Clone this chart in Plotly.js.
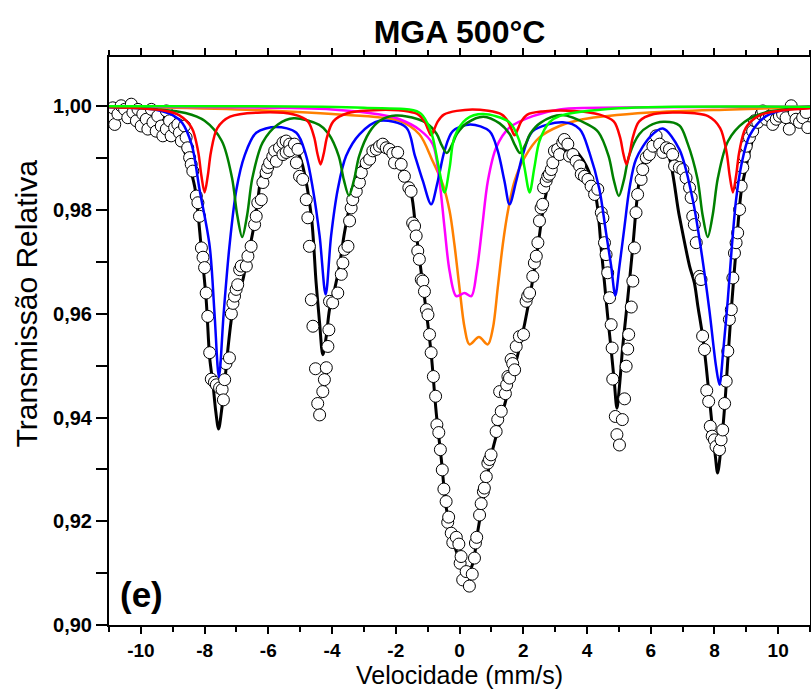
<!DOCTYPE html>
<html>
<head>
<meta charset="utf-8">
<script src="https://cdn.plot.ly/plotly-3.0.1.min.js"></script>
<style>html,body{margin:0;padding:0;background:#fff;}#chart{width:811px;height:693px;}</style>
</head>
<body>
<div id="chart"></div>
<script>
// Experimental points (velocity mm/s, relative transmission)
const velocity = [-10.88,-10.82,-10.72,-10.62,-10.51,-10.41,-10.30,-10.25,-10.14,-10.09,-9.99,-9.94,-9.83,-9.78,-9.67,-9.62,-9.52,-9.47,-9.36,-9.31,-9.20,-9.20,-9.10,-9.05,-8.94,-8.84,-8.79,-8.73,-8.63,-8.58,-8.53,-8.47,-8.42,-8.37,-8.26,-8.21,-8.16,-8.10,-8.05,-8.00,-7.95,-7.90,-7.84,-7.79,-7.69,-7.63,-7.53,-7.45,-7.41,-7.37,-7.33,-7.22,-7.16,-7.11,-7.06,-7.01,-6.96,-6.90,-6.85,-6.69,-6.64,-6.54,-6.43,-6.38,-6.33,-6.22,-6.17,-6.07,-6.02,-5.96,-5.86,-5.80,-5.75,-5.65,-5.54,-5.54,-5.44,-5.44,-5.33,-5.33,-5.18,-5.12,-5.07,-5.02,-4.92,-4.81,-4.76,-4.71,-4.65,-4.60,-4.52,-4.45,-4.39,-4.29,-4.24,-4.18,-4.13,-4.10,-4.08,-3.98,-3.82,-3.71,-3.66,-3.61,-3.50,-3.45,-3.40,-3.35,-3.24,-3.14,-3.08,-2.93,-2.82,-2.72,-2.61,-2.51,-2.41,-2.30,-2.20,-2.09,-2.04,-1.94,-1.83,-1.73,-1.59,-1.52,-1.47,-1.41,-1.36,-1.31,-1.26,-1.20,-1.15,-1.10,-1.04,-0.99,-0.94,-0.89,-0.82,-0.75,-0.71,-0.65,-0.60,-0.54,-0.49,-0.42,-0.37,-0.34,-0.26,-0.21,-0.10,-0.02,0.02,0.05,0.10,0.21,0.31,0.40,0.47,0.50,0.54,0.63,0.68,0.75,0.78,0.84,0.89,0.94,0.99,1.15,1.20,1.26,1.31,1.44,1.48,1.52,1.57,1.62,1.67,1.73,1.78,1.88,2.01,2.09,2.14,2.20,2.30,2.35,2.41,2.46,2.51,2.56,2.61,2.64,2.72,2.77,2.82,2.88,2.93,2.98,3.08,3.14,3.24,3.29,3.40,3.45,3.56,3.66,3.77,3.82,3.92,4.03,4.13,4.24,4.34,4.45,4.50,4.55,4.60,4.65,4.71,4.76,4.79,4.81,4.89,4.94,5.02,5.11,5.18,5.23,5.28,5.31,5.39,5.44,5.49,5.54,5.59,5.70,5.75,5.86,5.96,6.07,6.17,6.28,6.38,6.49,6.59,6.69,6.75,6.90,7.01,7.11,7.22,7.27,7.32,7.37,7.43,7.53,7.58,7.63,7.69,7.76,7.82,7.87,7.93,8.00,8.05,8.16,8.21,8.26,8.32,8.37,8.42,8.47,8.53,8.58,8.63,8.68,8.73,8.79,8.84,8.89,8.94,9.00,9.10,9.20,9.26,9.36,9.47,9.52,9.62,9.73,9.83,9.94,10.04,10.14,10.25,10.35,10.41,10.51,10.56,10.67,10.77,10.88,10.93];
const transmission = [0.9997,0.9965,0.9985,1.0001,0.9994,0.9978,1.0004,0.9988,0.9972,0.9994,0.9962,0.9985,0.9975,0.9956,0.9994,0.9969,0.9952,0.9981,0.9962,0.9943,0.9991,0.9956,0.9972,0.9943,0.9959,0.9965,0.9949,0.9933,0.9962,0.9940,0.9920,0.9901,0.9888,0.9875,0.9827,0.9814,0.9788,0.9727,0.9709,0.9689,0.9640,0.9595,0.9525,0.9474,0.9468,0.9463,0.9457,0.9454,0.9434,0.9473,0.9504,0.9515,0.9600,0.9620,0.9634,0.9647,0.9656,0.9685,0.9692,0.9692,0.9711,0.9730,0.9772,0.9788,0.9814,0.9820,0.9853,0.9872,0.9882,0.9891,0.9903,0.9914,0.9894,0.9920,0.9930,0.9907,0.9933,0.9911,0.9927,0.9914,0.9927,0.9891,0.9917,0.9865,0.9859,0.9820,0.9785,0.9730,0.9627,0.9576,0.9494,0.9427,0.9405,0.9450,0.9473,0.9496,0.9537,0.9569,0.9624,0.9621,0.9640,0.9676,0.9698,0.9724,0.9730,0.9779,0.9804,0.9820,0.9836,0.9853,0.9872,0.9891,0.9898,0.9914,0.9917,0.9923,0.9927,0.9920,0.9917,0.9909,0.9891,0.9911,0.9888,0.9865,0.9843,0.9836,0.9775,0.9769,0.9750,0.9721,0.9705,0.9666,0.9663,0.9643,0.9608,0.9598,0.9560,0.9525,0.9479,0.9441,0.9386,0.9371,0.9338,0.9299,0.9262,0.9238,0.9198,0.9208,0.9177,0.9159,0.9169,0.9156,0.9119,0.9132,0.9087,0.9103,0.9075,0.9098,0.9129,0.9158,0.9169,0.9212,0.9234,0.9257,0.9264,0.9286,0.9312,0.9319,0.9328,0.9373,0.9396,0.9450,0.9412,0.9446,0.9463,0.9479,0.9476,0.9512,0.9504,0.9492,0.9537,0.9556,0.9560,0.9624,0.9634,0.9640,0.9672,0.9698,0.9711,0.9737,0.9779,0.9804,0.9811,0.9843,0.9856,0.9865,0.9869,0.9878,0.9891,0.9914,0.9917,0.9907,0.9930,0.9936,0.9927,0.9904,0.9907,0.9894,0.9885,0.9869,0.9865,0.9859,0.9846,0.9830,0.9840,0.9795,0.9785,0.9737,0.9714,0.9679,0.9631,0.9579,0.9534,0.9474,0.9402,0.9367,0.9347,0.9396,0.9436,0.9499,0.9532,0.9560,0.9613,0.9663,0.9727,0.9795,0.9830,0.9859,0.9878,0.9901,0.9907,0.9923,0.9943,0.9927,0.9911,0.9920,0.9917,0.9907,0.9885,0.9882,0.9878,0.9862,0.9843,0.9824,0.9788,0.9772,0.9737,0.9672,0.9666,0.9557,0.9531,0.9452,0.9431,0.9383,0.9364,0.9357,0.9344,0.9338,0.9357,0.9376,0.9427,0.9470,0.9528,0.9589,0.9608,0.9669,0.9717,0.9737,0.9756,0.9801,0.9846,0.9882,0.9904,0.9923,0.9940,0.9952,0.9972,0.9969,0.9985,0.9991,0.9975,0.9981,0.9965,0.9975,0.9981,0.9985,0.9978,0.9956,1.0001,0.9988,0.9975,0.9969,0.9978,0.9988,0.9959];

// Total fit (black)
const fitX = [-11,-10,-9.5,-9.2,-8.9,-8.7,-8.52,-8.31,-8.1,-7.95,-7.84,-7.74,-7.65,-7.56,-7.47,-7.37,-7.27,-7.11,-6.95,-6.8,-6.69,-6.49,-6.33,-6.17,-5.86,-5.44,-5.25,-5.02,-4.92,-4.65,-4.5,-4.39,-4.29,-4.18,-4.08,-3.92,-3.77,-3.61,-3.40,-3.19,-2.93,-2.45,-2.2,-1.78,-1.52,-1.36,-1.2,-1.05,-0.89,-0.73,-0.57,-0.42,-0.21,0.05,0.26,0.42,0.58,0.78,0.99,1.26,1.57,1.88,2.2,2.46,2.61,2.77,2.98,3.29,3.56,3.98,4.29,4.45,4.55,4.65,4.76,4.86,4.94,5.02,5.12,5.23,5.33,5.45,5.57,5.7,5.95,6.2,6.49,6.9,7.22,7.37,7.48,7.63,7.74,7.9,8.03,8.1,8.2,8.32,8.42,8.53,8.68,8.84,9.0,9.14,9.41,9.94,10.57,11];
const fitY = [0.9997,0.9993,0.9986,0.9977,0.9955,0.9925,0.9893,0.9845,0.9724,0.9627,0.9515,0.9466,0.9412,0.9378,0.9412,0.9466,0.9531,0.9608,0.9640,0.9665,0.9698,0.9756,0.9820,0.9878,0.9904,0.9930,0.9932,0.9904,0.9885,0.9788,0.9660,0.9582,0.9521,0.9557,0.9608,0.9647,0.9692,0.9756,0.9820,0.9866,0.9904,0.9916,0.9912,0.9872,0.9833,0.9756,0.9679,0.9608,0.9524,0.9409,0.9319,0.9228,0.9164,0.9119,0.9100,0.9119,0.9183,0.9254,0.9325,0.9389,0.9460,0.9534,0.9630,0.9730,0.9795,0.9846,0.9885,0.9914,0.9917,0.9885,0.9822,0.9724,0.9660,0.9595,0.9531,0.9467,0.9418,0.9460,0.9535,0.9600,0.9660,0.9737,0.9820,0.9878,0.9915,0.9928,0.9917,0.9788,0.9692,0.9660,0.9615,0.9557,0.9500,0.9402,0.9325,0.9293,0.9338,0.9420,0.9510,0.9608,0.9724,0.9835,0.9885,0.9923,0.9967,0.9988,0.9997,0.9999];

// Blue sextet
const blueX = [-11,-9.5,-9.0,-8.7,-8.4,-8.16,-7.84,-7.69,-7.55,-7.40,-7.22,-7.0,-6.75,-6.38,-5.75,-5.12,-4.81,-4.6,-4.39,-4.2,-4.03,-3.82,-3.56,-3.14,-2.51,-1.67,-1.41,-1.15,-0.89,-0.68,-0.47,-0.21,0.34,0.94,1.2,1.41,1.57,1.78,1.99,2.30,3.24,3.77,4.08,4.39,4.6,4.76,4.89,5.02,5.18,5.33,5.54,6.01,6.38,6.9,7.32,7.58,7.84,8.05,8.16,8.28,8.42,8.54,8.68,8.84,9.1,9.62,10.3,11];
const blueY = [0.9998,0.9993,0.9983,0.9968,0.9925,0.9840,0.9730,0.9602,0.9478,0.9602,0.9730,0.9840,0.9904,0.9949,0.9960,0.9949,0.9904,0.9840,0.9750,0.9637,0.9750,0.9840,0.9904,0.9946,0.9972,0.9959,0.9907,0.9856,0.9811,0.9856,0.9914,0.9952,0.9965,0.9952,0.9914,0.9856,0.9811,0.9856,0.9907,0.9952,0.9969,0.9956,0.9910,0.9840,0.9756,0.9692,0.9635,0.9692,0.9769,0.9840,0.9898,0.9943,0.9957,0.9917,0.9820,0.9724,0.9608,0.9499,0.9463,0.9531,0.9627,0.9724,0.9820,0.9885,0.9943,0.9981,0.9994,0.9998];

// Dark green sextet
const greenX = [-11,-9.5,-8.6,-8.0,-7.46,-7.14,-6.98,-6.82,-6.66,-6.50,-6.18,-5.7,-5.2,-4.4,-4.11,-3.79,-3.63,-3.47,-3.31,-3.15,-2.83,-2.5,-2.0,-1.3,-1.04,-0.72,-0.56,-0.4,-0.24,-0.08,0.24,0.75,1.26,1.58,1.74,1.9,2.06,2.22,2.54,3.2,4.05,4.36,4.68,4.84,5.0,5.16,5.32,5.64,5.95,6.4,6.9,7.15,7.47,7.63,7.79,7.95,8.11,8.43,8.95,9.6,11];
const greenY = [0.9999,0.9994,0.9987,0.9972,0.9933,0.9862,0.9792,0.9748,0.9792,0.9862,0.9930,0.9965,0.9977,0.9964,0.9947,0.9904,0.9858,0.9828,0.9858,0.9904,0.9950,0.9972,0.9982,0.9975,0.9968,0.9947,0.9925,0.9910,0.9925,0.9947,0.9968,0.9980,0.9967,0.9946,0.9925,0.9910,0.9925,0.9947,0.9968,0.9983,0.9964,0.9950,0.9904,0.9858,0.9827,0.9858,0.9904,0.9946,0.9962,0.9970,0.9963,0.9930,0.9860,0.9790,0.9748,0.9792,0.9862,0.9933,0.9970,0.9988,0.9997];

// Red sextet
const redX = [-11,-10,-9.2,-8.8,-8.4,-8.2,-8.1,-8.0,-7.9,-7.8,-7.6,-7.2,-6.2,-5.2,-4.76,-4.56,-4.46,-4.36,-4.26,-4.16,-3.96,-3.5,-2.5,-1.6,-1.29,-1.09,-0.99,-0.89,-0.79,-0.69,-0.49,0.4,1.33,1.53,1.63,1.73,1.83,1.93,2.13,2.6,3.6,4.4,4.84,5.04,5.14,5.24,5.34,5.44,5.64,6.1,6.9,7.8,8.18,8.38,8.48,8.58,8.68,8.78,8.98,9.4,10,11];
const redY = [0.9998,0.9996,0.9991,0.9983,0.9958,0.9912,0.9866,0.9834,0.9866,0.9912,0.9958,0.9980,0.9988,0.9984,0.9971,0.9940,0.9909,0.9888,0.9909,0.9940,0.9971,0.9987,0.9993,0.9990,0.9984,0.9970,0.9956,0.9944,0.9956,0.9970,0.9984,0.9994,0.9984,0.9970,0.9956,0.9944,0.9956,0.9970,0.9984,0.9990,0.9991,0.9984,0.9971,0.9940,0.9909,0.9888,0.9909,0.9940,0.9971,0.9985,0.9988,0.9981,0.9958,0.9912,0.9866,0.9834,0.9866,0.9912,0.9958,0.9982,0.9991,0.9996];

// Orange doublet
const orangeX = [-11,-7,-4,-1.88,-1.26,-0.84,-0.52,-0.31,-0.16,0.0,0.16,0.31,0.61,0.89,1.05,1.2,1.36,1.52,1.73,2.04,2.51,3.14,3.87,5.96,8.57,11];
const orangeY = [0.9999,0.9994,0.9985,0.9972,0.9946,0.9894,0.9849,0.9798,0.9734,0.9650,0.9573,0.9541,0.9555,0.9541,0.9573,0.9650,0.9734,0.9798,0.9856,0.9901,0.9940,0.9962,0.9975,0.9988,0.9994,0.9998];

// Magenta doublet
const magentaX = [-11,-4,-2.5,-1.88,-1.26,-0.84,-0.63,-0.47,-0.31,-0.10,0.16,0.37,0.54,0.71,0.89,1.15,1.57,2.3,3.14,6,11];
const magentaY = [0.9999,0.9994,0.9984,0.9975,0.9955,0.9927,0.9856,0.9766,0.9682,0.9634,0.9640,0.9634,0.9682,0.9766,0.9856,0.9920,0.9959,0.9981,0.9994,0.9998,0.9999];

// Light green doublet
const limeX = [-11,-3,-1.26,-0.99,-0.84,-0.65,-0.47,-0.31,-0.16,0.21,0.73,1.57,1.88,2.04,2.2,2.35,2.51,2.82,3.14,5,11];
const limeY = [1.0,0.9997,0.9988,0.9965,0.9940,0.9882,0.9834,0.9882,0.9940,0.9975,0.9985,0.9969,0.9933,0.9882,0.9834,0.9882,0.9933,0.9969,0.9981,0.9996,0.9999];

// Tick labels
const xTickVals = [-10,-8,-6,-4,-2,0,2,4,6,8,10];
const xTickText = ['-10','-8','-6','-4','-2','0','2','4','6','8','10'];

const FONT = 'Liberation Sans, Arial, Helvetica, sans-serif';
function curve(x, y, color, w) {
  return {x: x, y: y, type: 'scatter', mode: 'lines', hoverinfo: 'skip',
          line: {color: color, width: w, shape: 'spline', smoothing: 0.9}};
}
const traces = [
  curve(fitX, fitY, '#000000', 3),
  {x: velocity, y: transmission, type: 'scatter', mode: 'markers',
   marker: {symbol: 'circle', size: 12, color: '#ffffff', line: {color: '#000000', width: 1}}},
  curve(orangeX, orangeY, '#ff8000', 2.5),
  curve(magentaX, magentaY, '#ff00ff', 2.5),
  curve(blueX, blueY, '#0000ff', 2.5),
  curve(greenX, greenY, '#008000', 2.5),
  curve(redX, redY, '#ff0000', 2.5),
  curve(limeX, limeY, '#00ff00', 2.5)
];

const layout = {
  width: 811, height: 693,
  margin: {l: 109, r: 1, t: 57, b: 68},
  paper_bgcolor: '#ffffff', plot_bgcolor: '#ffffff',
  showlegend: false,
  separators: ',.',
  font: {family: FONT, color: '#000000'},
  title: {text: 'MGA 500°C', font: {family: FONT, size: 32, weight: 'bold', color: '#000'},
          x: 0.5, xref: 'paper', y: 1 - 32/693, yref: 'container', yanchor: 'middle'},
  xaxis: {
    range: [-11, 11], tickmode: 'array', tickvals: xTickVals, ticktext: xTickText,
    showgrid: false, zeroline: false,
    showline: true, linewidth: 2, linecolor: '#000', mirror: 'ticks',
    ticks: 'outside', ticklen: 7, tickwidth: 2, tickcolor: '#000',
    minor: {dtick: 1, tick0: 0, ticks: 'outside', ticklen: 5, tickwidth: 2, tickcolor: '#000'},
    tickfont: {family: FONT, size: 19, weight: 'bold'},
    title: {text: 'Velocidade (mm/s)', font: {family: FONT, size: 25}, standoff: 6}
  },
  yaxis: {
    range: [0.9, 1.0095], tick0: 0.9, dtick: 0.02, tickformat: '.2f',
    showgrid: false, zeroline: false,
    showline: true, linewidth: 2, linecolor: '#000', mirror: 'ticks',
    ticks: 'outside', ticklen: 11, tickwidth: 2, tickcolor: '#000',
    minor: {dtick: 0.01, ticks: 'outside', ticklen: 11, tickwidth: 2, tickcolor: '#000'},
    tickfont: {family: FONT, size: 20, weight: 'bold'}
  },
  annotations: [
    {text: 'Transmissão Relativa', textangle: -90, xref: 'paper', yref: 'paper',
     x: -0.117, y: 0.566, xanchor: 'center', yanchor: 'middle', showarrow: false,
     font: {family: FONT, size: 30, color: '#000'}},
    {text: '(e)', xref: 'paper', yref: 'paper', x: 0.047, y: 0.053,
     xanchor: 'center', yanchor: 'middle', showarrow: false,
     font: {family: FONT, size: 35, weight: 'bold', color: '#000'}}
  ]
};
Plotly.newPlot('chart', traces, layout, {displayModeBar: false, staticPlot: true});
</script>
</body>
</html>
